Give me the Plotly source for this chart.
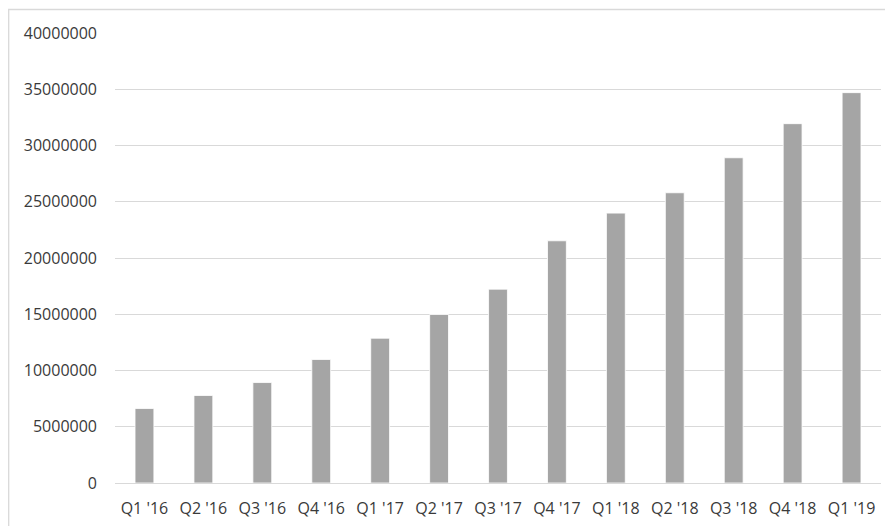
import plotly.graph_objects as go

quarters = ["Q1 '16", "Q2 '16", "Q3 '16", "Q4 '16", "Q1 '17", "Q2 '17", "Q3 '17",
            "Q4 '17", "Q1 '18", "Q2 '18", "Q3 '18", "Q4 '18", "Q1 '19"]
values = [6620000, 7780000, 8930000, 10980000, 12870000, 14980000, 17230000,
          21530000, 23990000, 25800000, 28910000, 31940000, 34700000]
y_ticks = [0, 5000000, 10000000, 15000000, 20000000, 25000000, 30000000, 35000000, 40000000]

# page has an 8px body margin, so the figure is offset by 8px
W, H = 885, 518
ml, mr, mt, mb = 107, 12, 25, 43

fig = go.Figure(go.Bar(
    x=quarters, y=values,
    marker=dict(color="#a5a5a5", line=dict(color="#ffffff", width=0.8)),
))

fig.update_layout(
    width=W, height=H,
    margin=dict(l=ml, r=mr, t=mt, b=mb, pad=0, autoexpand=False),
    paper_bgcolor="white", plot_bgcolor="white",
    bargap=0.68,
    showlegend=False,
    font=dict(family="Open Sans", size=16, color="#3a3a3a"),
    xaxis=dict(showgrid=False, showline=False, ticks="", zeroline=False, automargin=False,
               tickfont=dict(size=16, color="#3a3a3a"), ticklabelstandoff=14),
    yaxis=dict(range=[0, 40000000], tickvals=y_ticks, automargin=False,
               ticktext=[str(v) for v in y_ticks],
               showgrid=True, gridcolor="#d9d9d9", gridwidth=1.3,
               zeroline=True, zerolinecolor="#d9d9d9", zerolinewidth=1.3,
               showline=False, ticks="", ticklabelstandoff=17,
               tickfont=dict(size=16, color="#3a3a3a")),
)

pw = W - ml - mr
ph = H - mt - mb
def px_x(p):
    return (p - ml) / pw
def px_y(p):
    return (H - mb - p) / ph

fig.add_shape(type="rect", xref="paper", yref="paper",
              x0=px_x(0.7), x1=px_x(900), y0=px_y(530), y1=px_y(1.5),
              line=dict(color="#d9d9d9", width=1.3), fillcolor="rgba(0,0,0,0)",
              layer="below")

fig.write_html("out.html")
